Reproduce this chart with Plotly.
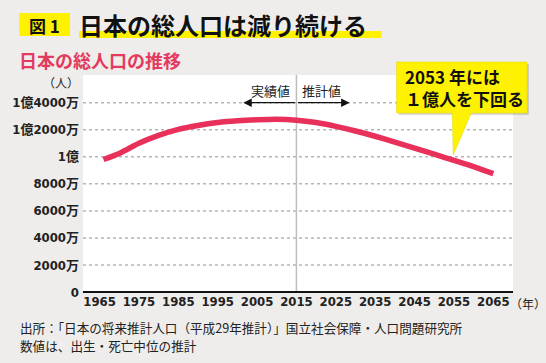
import plotly.graph_objects as go

# ---- data ----
years = [1966, 1970, 1972, 1975, 1980, 1985, 1990, 1995, 2000, 2005, 2010, 2015,
         2020, 2025, 2030, 2035, 2040, 2045, 2050, 2055, 2060, 2065]
population = [98.0e6, 102.5e6, 105.5e6, 110.0e6, 115.8e6, 120.3e6, 123.2e6, 125.3e6, 126.6e6, 127.4e6, 127.8e6, 127.1e6,
              125.3e6, 122.5e6, 119.1e6, 115.2e6, 110.9e6, 106.4e6, 101.9e6, 97.4e6, 92.8e6, 87.5e6]
x_ticks = [1965, 1975, 1985, 1995, 2005, 2015, 2025, 2035, 2045, 2055, 2065]
y_tickvals = [0, 2e7, 4e7, 6e7, 8e7, 1e8, 1.2e8, 1.4e8]
y_ticktext = ["0", "2000万", "4000万", "6000万", "8000万", "1億", "1億2000万", "1億4000万"]
split_year = 2015

W, H = 546, 363
L, R, T, B = 81, 33, 75, 71
PW, PH = W - L - R, H - T - B


def px(xp):
    return (xp - L) / PW


def py(yp):
    return (H - B - yp) / PH


BG = "#EEEDEB"
PINK = "#E8305A"
YELLOW = "#FFF200"
CJK = "Noto Sans CJK JP, sans-serif"
NUM = "DejaVu Sans Condensed, Noto Sans CJK JP, sans-serif"

fig = go.Figure()

# horizontal dotted gridlines
for v in y_tickvals[1:]:
    fig.add_shape(type="line", xref="paper", yref="y", x0=0, x1=1, y0=v, y1=v,
                  line=dict(color="#B5B5B5", width=1.5, dash="dot"), layer="below")
# vertical separator
fig.add_shape(type="line", xref="x", yref="paper", x0=split_year, x1=split_year, y0=0, y1=1,
              line=dict(color="#BDBDBD", width=1.5), layer="below")

fig.add_trace(go.Scatter(x=years, y=population, mode="lines",
                         line=dict(color=PINK, width=5.5, shape="spline", smoothing=0.6),
                         hoverinfo="skip", showlegend=False))

# title block
fig.add_shape(type="rect", xref="paper", yref="paper", x0=px(17), x1=px(68), y0=py(36), y1=py(13),
              fillcolor=YELLOW, line=dict(width=0), layer="above")
fig.add_shape(type="rect", xref="paper", yref="paper", x0=px(77), x1=px(381), y0=py(38), y1=py(31),
              fillcolor=YELLOW, line=dict(width=0), layer="above")

# callout box
fig.add_shape(type="path", xref="paper", yref="paper",
              path=f"M {px(398)},{py(64)} L {px(529)},{py(64)} L {px(529)},{py(115)} L {px(398)},{py(115)} Z",
              fillcolor="rgba(0,0,0,0.15)", line=dict(width=0), layer="above")
fig.add_shape(type="path", xref="paper", yref="paper",
              path=(f"M {px(396)},{py(62)} L {px(527)},{py(62)} L {px(527)},{py(113)} "
                    f"L {px(471)},{py(113)} L {px(453)},{py(155)} L {px(452)},{py(113)} "
                    f"L {px(396)},{py(113)} Z"),
              fillcolor=YELLOW, line=dict(color="#E0D400", width=0.5), layer="above")

ann = [
    dict(x=px(42.5), y=py(25), text="<b>図 1</b>", font=dict(size=17, color="#111", family=CJK),
         xanchor="center", yanchor="middle"),
    dict(x=px(75), y=py(24), text="<b>日本の総人口は減り続ける</b>",
         font=dict(size=24, color="#111", family=CJK), xanchor="left", yanchor="middle"),
    dict(x=px(15), y=py(60), text="<b>日本の総人口の推移</b>",
         font=dict(size=18, color="#E33A5E", family=CJK), xanchor="left", yanchor="middle"),
    dict(x=px(79), y=py(83), text="（人）", font=dict(size=12, color="#222", family=CJK),
         xanchor="right", yanchor="middle"),
    dict(x=px(508), y=py(303), text="（年）", font=dict(size=12, color="#222", family=CJK),
         xanchor="left", yanchor="middle"),
    dict(x=px(402), y=py(88), text="<b>2053 年には<br>１億人を下回る</b>",
         font=dict(size=17, color="#111", family=CJK), xanchor="left", yanchor="middle",
         align="left"),
    dict(x=split_year - 1, y=py(90), yref="paper", xref="x", text="実績値",
         font=dict(size=13, color="#222", family=CJK), xanchor="right", yanchor="middle"),
    dict(x=split_year + 1, y=py(90), yref="paper", xref="x", text="推計値",
         font=dict(size=13, color="#222", family=CJK), xanchor="left", yanchor="middle"),
    dict(x=px(16), y=py(327), text="出所：「日本の将来推計人口（平成29年推計）」国立社会保障・人口問題研究所",
         font=dict(size=12.6, color="#222", family=CJK), xanchor="left", yanchor="middle"),
    dict(x=px(16), y=py(345), text="数値は、出生・死亡中位の推計",
         font=dict(size=12.6, color="#222", family=CJK), xanchor="left", yanchor="middle"),
]
for a in ann:
    a.setdefault("xref", "paper")
    a.setdefault("yref", "paper")
    a["showarrow"] = False
    fig.add_annotation(**a)

# arrows
fig.add_annotation(x=2001.5, y=1.4e8, ax=split_year, ay=1.4e8, xref="x", yref="y", axref="x", ayref="y",
                   showarrow=True, arrowhead=2, arrowsize=1.3, arrowwidth=1.3, arrowcolor="#111", text="")
fig.add_annotation(x=2028.5, y=1.4e8, ax=split_year, ay=1.4e8, xref="x", yref="y", axref="x", ayref="y",
                   showarrow=True, arrowhead=2, arrowsize=1.3, arrowwidth=1.3, arrowcolor="#111", text="")

fig.update_layout(
    width=W, height=H,
    margin=dict(l=L, r=R, t=T, b=B, pad=0),
    paper_bgcolor=BG, plot_bgcolor="white",
    showlegend=False,
    xaxis=dict(range=[1960.8, 2070], tickvals=x_ticks, ticktext=[str(t) for t in x_ticks],
               showgrid=False, zeroline=False, showline=False, ticks="",
               tickfont=dict(size=13, color="#222", family=NUM, weight="bold"),
               fixedrange=True),
    yaxis=dict(range=[0, 1.605e8], tickvals=y_tickvals, ticktext=y_ticktext,
               showgrid=False, zeroline=True, zerolinecolor="#111", zerolinewidth=1.5,
               showline=False, ticks="", ticklabelstandoff=3,
               tickfont=dict(size=13, color="#222", family=NUM, weight="bold"),
               fixedrange=True),
)

fig.write_html("out.html", config={"displayModeBar": False},
               post_script="document.body.style.margin='0';")
